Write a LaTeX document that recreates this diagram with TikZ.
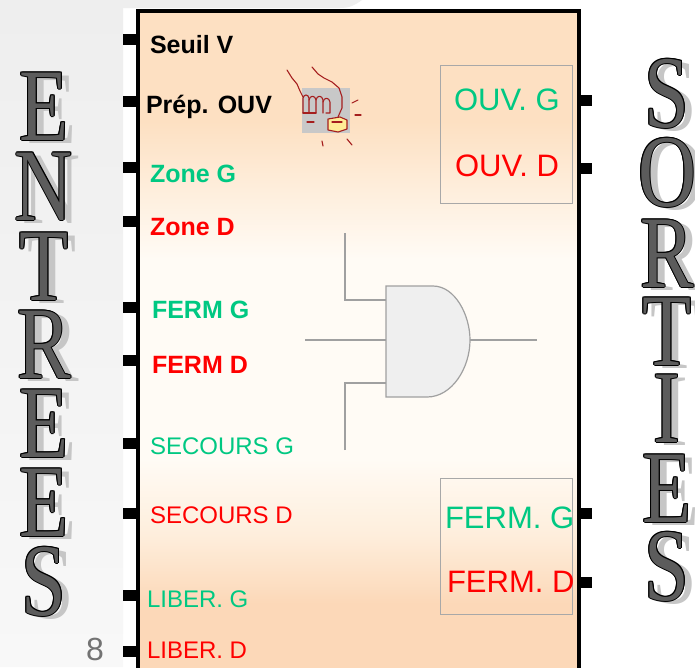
\documentclass[tikz,border=0pt]{standalone}
\usepackage{fontspec}
\setmainfont{Liberation Serif}
\newfontfamily\sansf{Liberation Sans}
\usetikzlibrary{calc}

\definecolor{lblgreen}{RGB}{0,200,130}
\definecolor{lblred}{RGB}{255,0,0}
\definecolor{slidegray}{RGB}{238,238,238}
\definecolor{slidegraylow}{RGB}{248,248,248}
\definecolor{peachtop}{RGB}{253,224,194}
\definecolor{peachsoft}{RGB}{254,238,220}
\definecolor{peachmid}{RGB}{255,251,245}
\definecolor{peachlow}{RGB}{252,216,184}
\definecolor{gateline}{RGB}{160,160,160}
\definecolor{gatefill}{RGB}{239,239,239}
\definecolor{framegray}{RGB}{168,168,168}
\definecolor{letterfill}{RGB}{92,92,92}
\definecolor{lettershadow}{RGB}{198,198,198}
\definecolor{handred}{RGB}{165,30,30}
\definecolor{handgray}{RGB}{200,200,200}
\definecolor{handyellow}{RGB}{255,236,150}

% vertical fill of the block (the path covers 25bp..75bp of the shading):
% peach at top and bottom, nearly white in between
\pgfdeclareverticalshading{blockfill}{100bp}{%
  color(0bp)=(peachlow); color(32bp)=(peachlow); color(37bp)=(peachsoft);
  color(42.5bp)=(peachmid); color(57bp)=(peachmid); color(62bp)=(peachsoft);
  color(67bp)=(peachtop); color(100bp)=(peachtop)}

\newcommand\boldlbl{\sansf\bfseries\fontsize{25}{30}\selectfont}
\newcommand\thinlbl{\sansf\fontsize{24}{29}\selectfont}
\newcommand\outlbl{\sansf\fontsize{31}{36}\selectfont}
\newcommand\bigletter[1]{\scalebox{0.78}[1]{\fontsize{103}{110}\selectfont #1}}

\tikzset{
  lbl/.style={anchor=base west, inner sep=0pt, outer sep=0pt},
  bigl/.style={anchor=base, inner sep=0pt, outer sep=0pt},
  pin/.style={fill=black},
  gatewire/.style={draw=gateline, line width=1.2pt},
  handline/.style={draw=handred, line width=1.1pt, line cap=round, line join=round},
}

\begin{document}
\begin{tikzpicture}[x=1pt,y=-1pt]
\useasboundingbox (0,0) rectangle (695,667);

% slide background
\fill[white] (0,0) rectangle (695,667);
\shade[top color=slidegray, bottom color=slidegraylow]
  (0,0) -- (362,0) .. controls (355,5) and (350,8) .. (340,8)
  -- (123,8) -- (123,667) -- (0,667) -- cycle;

% block body
\shade[shading=blockfill] (138,11) rectangle (579,700);
\draw[line width=4pt] (138,700) -- (138,11) -- (579,11) -- (579,700);

% input pins
\foreach \py in {39,101,167,221,307,360,443,513,595,651}
  \fill[pin] (123,\py-5.5) rectangle (137,\py+5.5);
% output pins
\foreach \py in {100,168,513,582}
  \fill[pin] (578,\py-5.5) rectangle (592,\py+5.5);

% output groups
\draw[framegray, line width=0.8pt] (440,65) rectangle (572,203);
\draw[framegray, line width=0.8pt] (440,478) rectangle (572,614);

% AND gate
\draw[gatewire] (345,233) -- (345,300) -- (386,300);
\draw[gatewire] (305,340) -- (386,340);
\draw[gatewire] (345,450) -- (345,383) -- (386,383);
\draw[gatewire] (470,340) -- (537,340);
\filldraw[gatewire, fill=gatefill]
  (386,286) -- (433,286) .. controls (455,286) and (470,315) .. (470,340)
  .. controls (470,368) and (452,397) .. (427,397) -- (386,397) -- cycle;

% hand pressing a button
\fill[handgray] (302,88) rectangle (350,133);
\draw[handline] (287,70) -- (292,78) -- (297,84) -- (300,91) -- (303,97);
\draw[handline] (312,67) -- (318,74) -- (324,78) -- (332,82) -- (339,88) -- (342,97) -- (342,108) -- (338,117);
\draw[handline] (303,113) -- (303,98) .. controls (304,94) and (308,94) .. (309,98) -- (309,113);
\draw[handline] (309,100) .. controls (310,95) and (315,95) .. (316,100) -- (316,113);
\draw[handline] (316,100) .. controls (317,95) and (322,95) .. (323,100) -- (323,113);
\draw[handline] (323,102) .. controls (324,97) and (329,97) .. (330,102) -- (330,113) -- (326,113);
\draw[handline] (303,113) -- (316,113);
\filldraw[handline, fill=handyellow] (328,119) -- (340,117) -- (347,120) -- (347,129) -- (338,132) -- (328,130) -- cycle;
\draw[handline] (332,122) -- (342,122);
\draw[handline] (352,103) -- (358,100);
\draw[handline] (355,115) -- (361,115);
\draw[handline] (347,139) -- (352,145);
\draw[handline] (322,141) -- (323,146);
\draw[handline] (307,122) -- (314,122);

% input labels
\node[lbl] (inSeuil) at (150,53) {\boldlbl Seuil V};
\node[lbl] (inPrep) at (146,113) {\boldlbl Prép. OUV};
\node[lbl, text=lblgreen] (inZoneG) at (150,182) {\boldlbl Zone G};
\node[lbl, text=lblred] (inZoneD) at (150,235) {\boldlbl Zone D};
\node[lbl, text=lblgreen] (inFermG) at (152,318) {\boldlbl FERM G};
\node[lbl, text=lblred] (inFermD) at (152,373) {\boldlbl FERM D};
\node[lbl, text=lblgreen] (inSecG) at (150,454) {\thinlbl SECOURS G};
\node[lbl, text=lblred] (inSecD) at (150,523) {\thinlbl SECOURS D};
\node[lbl, text=lblgreen] (inLibG) at (147,607) {\thinlbl LIBER. G};
\node[lbl, text=lblred] (inLibD) at (147,658) {\thinlbl LIBER. D};

% output labels
\node[lbl, text=lblgreen] (outOuvG) at (454,110) {\outlbl OUV. G};
\node[lbl, text=lblred] (outOuvD) at (455,176) {\outlbl OUV. D};
\node[lbl, text=lblgreen] (outFermG) at (445,528) {\outlbl FERM. G};
\node[lbl, text=lblred] (outFermD) at (447,592) {\outlbl FERM. D};

% page number
\node[text=gray!110, inner sep=0pt] (pagenum) at (95,649) {\sansf\fontsize{32}{36}\selectfont 8};

% ENTREES / SORTIES column titles: shadow, black outline, gray face
\foreach \ch/\cx/\yb [count=\i] in {E/44/140,N/44/220,T/44/300,R/44/378,E/44/457,E/44/536,S/44/615,
                                   S/667/127,O/667/206,R/667/287,T/667/365,I/667/442,E/667/522,S/667/600} {
  \node[bigl, text=lettershadow] (sh\i) at (\cx+8,\yb+3) {\bigletter{\ch}};
  \foreach \dx/\dy [count=\k] in {1/0,-1/0,0/1,0/-1,0.7/0.7,-0.7/0.7,0.7/-0.7,-0.7/-0.7}
    \node[bigl, text=black] (ol\i-\k) at (\cx+\dx,\yb+\dy) {\bigletter{\ch}};
  \node[bigl, text=letterfill] (lt\i) at (\cx,\yb) {\bigletter{\ch}};
}
\end{tikzpicture}
\end{document}
